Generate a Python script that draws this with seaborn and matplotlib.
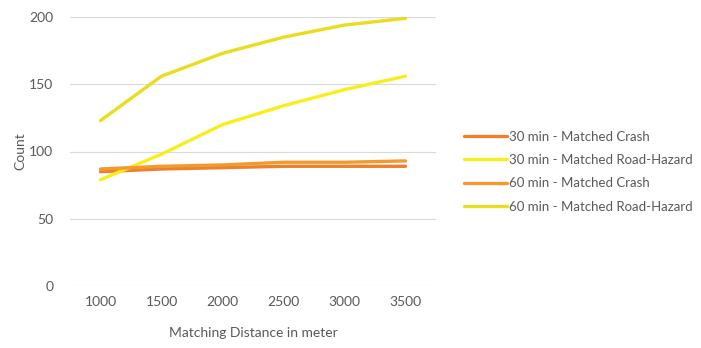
import matplotlib
matplotlib.use("Agg")
import matplotlib.pyplot as plt
import seaborn as sns
import pandas as pd

# Matching distance categories (meters)
distances = [1000, 1500, 2000, 2500, 3000, 3500]

# Counts per series
crash_30 = [85, 87, 88, 89, 89, 89]
hazard_30 = [79, 98, 120, 134, 146, 156]
crash_60 = [87, 89, 90, 92, 92, 93]
hazard_60 = [123, 156, 173, 185, 194, 199]

series_names = [
    "30 min - Matched Crash",
    "30 min - Matched Road-Hazard",
    "60 min - Matched Crash",
    "60 min - Matched Road-Hazard",
]
series_values = [crash_30, hazard_30, crash_60, hazard_60]
series_colors = ["#EE7F2D", "#F8EE1E", "#F29A2E", "#EADC1E"]

y_ticks = [0, 50, 100, 150, 200]

rows = []
for name, vals in zip(series_names, series_values):
    for d, v in zip(distances, vals):
        rows.append({"distance": d, "count": v, "series": name})
df = pd.DataFrame(rows)

sns.set_style("white")
plt.rcParams["font.family"] = ["Lato", "DejaVu Sans"]

fig = plt.figure(figsize=(7.01, 3.48), dpi=100)
ax = fig.add_axes([70 / 701, 62 / 348, 366 / 701, 269 / 348])

sns.lineplot(
    data=df, x="distance", y="count", hue="series",
    hue_order=series_names, palette=series_colors,
    linewidth=2.4, ax=ax, legend=True,
)

ax.set_xlim(750, 3750)
ax.set_ylim(0, 200)
ax.set_xticks(distances)
ax.set_xticklabels([str(d) for d in distances])
ax.set_yticks(y_ticks)
ax.set_yticklabels([str(t) for t in y_ticks])

for t in y_ticks:
    ax.axhline(t, color="#D9D9D9", linewidth=0.8, zorder=0)
for s in ax.spines.values():
    s.set_visible(False)

ax.tick_params(axis="both", length=0, labelsize=10, labelcolor="#595959")
ax.tick_params(axis="x", pad=7)
ax.tick_params(axis="y", pad=12)

ax.set_xlabel("Matching Distance in meter", fontsize=10, color="#595959", labelpad=14)
ax.set_ylabel("Count", fontsize=10, color="#595959", labelpad=2)

handles, labels = ax.get_legend_handles_labels()
ax.legend(
    handles, labels, loc="upper left",
    bbox_to_anchor=(452 / 701, 1 - 119 / 348), bbox_transform=fig.transFigure,
    frameon=False, fontsize=9.5, labelcolor="#595959",
    handlelength=3.3, handletextpad=0.1, labelspacing=0.85,
)

fig.savefig("out.png", dpi=100, facecolor="white")
